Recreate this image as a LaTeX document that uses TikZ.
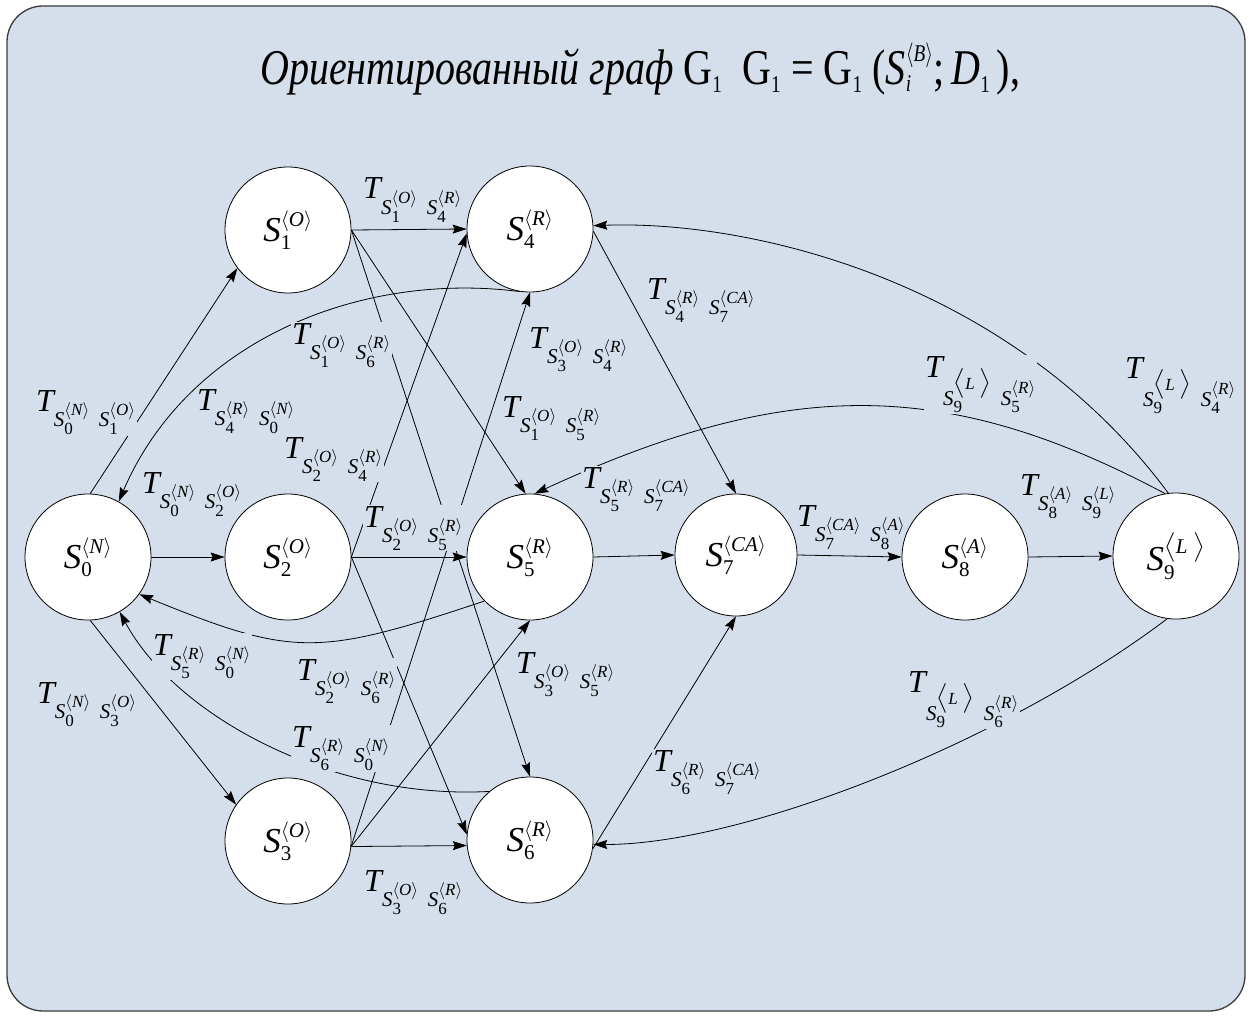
\documentclass[tikz,border=0pt]{standalone}
\usepackage{amsmath}
\usepackage{graphicx}
\usepackage{fontspec}
\setmainfont{Liberation Serif}
\usetikzlibrary{arrows.meta}
\DeclareMathSizes{32}{32}{21}{17}
\DeclareMathSizes{35}{35}{21}{15}
\DeclareMathSizes{50}{50}{24}{18}
\definecolor{bgc}{RGB}{213,222,235}
\definecolor{bdr}{RGB}{60,60,60}
\newcommand\vi[1]{\text{\itshape #1}}
\newcommand\sti[2]{\vi{S}_{\text{#1}}^{\langle\vi{#2}\rangle}}
\newcommand\stiL{\vi{S}_{\text{9}}^{\bigl\langle\vi{L}\;\bigr\rangle}}
\newcommand\trn[4]{$\vi{T}_{\sti{#1}{#2}\;\,\sti{#3}{#4}}$}
\newcommand\trnL[2]{$\vi{T}_{\stiL\;\,\sti{#1}{#2}}$}
\pgfdeclarelayer{bg}
\pgfdeclarelayer{edges}
\pgfdeclarelayer{labs}
\pgfsetlayers{bg,edges,labs,main}
\begin{document}
\begin{tikzpicture}[x=1pt,y=-1pt,
  stnode/.style={circle,draw=black,fill=white,line width=0.8pt,minimum size=126pt,inner sep=0pt,font=\fontsize{35}{40}\selectfont},
  ed/.style={line width=0.8pt,-{Stealth[length=14pt,width=9pt,inset=2pt]}},
  tl/.style={anchor=base west,fill=bgc,inner sep=1pt,font=\fontsize{32}{36}\selectfont}]
\useasboundingbox (0,0) rectangle (1257,1016);
\begin{pgfonlayer}{bg}
\draw[draw=bdr,line width=1.3pt,fill=bgc,rounded corners=36pt] (7,6) rectangle (1245,1011);
\end{pgfonlayer}
% title
\node[anchor=base west,inner sep=0pt,font=\fontsize{50}{60}\selectfont] (title) at (260,85)
 {\scalebox{0.8}[1]{\textit{Ориентированный граф} G\textsubscript{1}\ \ G\textsubscript{1} = G\textsubscript{1} ($\vi{S}_{\vi{i}}^{\langle\vi{B}\rangle}$;\,$\vi{D}_{\text{1}}$\,),}};
% states
\node[stnode] (s0) at (88,557) {$\sti{0}{N}$};
\node[stnode] (s1) at (288,230) {$\sti{1}{O}$};
\node[stnode] (s2) at (288,557) {$\sti{2}{O}$};
\node[stnode] (s3) at (288,841) {$\sti{3}{O}$};
\node[stnode] (s4) at (530,229) {$\sti{4}{R}$};
\node[stnode] (s5) at (530,557) {$\sti{5}{R}$};
\node[stnode] (s6) at (530,840) {$\sti{6}{R}$};
\node[stnode,minimum size=122pt] (s7) at (736,555) {$\sti{7}{CA}$};
\node[stnode] (s8) at (965,557) {$\sti{8}{A}$};
\node[stnode] (s9) at (1176,556) {$\stiL$};
% edges
\begin{pgfonlayer}{edges}
\draw[ed] (s0.88) -- (s1.217);
\draw[ed] (s0.0) -- (s2.180);
\draw[ed] (s0.272) -- (s3.145);
\draw[ed] (s1.0) -- (s4.180);
\draw[ed] (s1.0) -- (s5.94);
\draw[ed] (s1.0) -- (s6.90);
\draw[ed] (s2.0) -- (s4.184);
\draw[ed] (s2.0) -- (s5.180);
\draw[ed] (s2.0) -- (s6.175);
\draw[ed] (s3.-5) -- (s4.270);
\draw[ed] (s3.-5) -- (s5.270);
\draw[ed] (s3.-5) -- (s6.185);
\draw[ed] (s4.-2) -- (s7.90);
\draw[ed] (s5.0) -- (s7.180);
\draw[ed] (s6.-8) -- (s7.270);
\draw[ed] (s7.0) -- (s8.180);
\draw[ed] (s8.0) -- (s9.180);
\draw[ed] (s9.97) .. controls (1010,280) and (750,220) .. (s4.3);
\draw[ed] (s9.100) .. controls (946,377) and (788,377) .. (s5.86);
\draw[ed] (s9.262) .. controls (1000,745) and (740,845) .. (s6.-4);
\draw[ed] (s4.261) .. controls (361,271) and (188,340) .. (s0.61);
\draw[ed] (s5.224) .. controls (317,657) and (293,657) .. (s0.324);
\draw[ed] (s6.130) .. controls (330,800) and (175,715) .. (s0.300);
\end{pgfonlayer}
% labels
\begin{pgfonlayer}{labs}
\node[tl] (l1) at (362,199) {\trn{1}{O}{4}{R}};
\node[tl] (l2) at (646,299) {\trn{4}{R}{7}{CA}};
\node[tl] (l3) at (291,344) {\trn{1}{O}{6}{R}};
\node[tl] (l4) at (528,348) {\trn{3}{O}{4}{R}};
\node[tl] (l5) at (501,417) {\trn{1}{O}{5}{R}};
\node[tl] (l6) at (35,411) {\trn{0}{N}{1}{O}};
\node[tl] (l7) at (196,410) {\trn{4}{R}{0}{N}};
\node[tl] (l8) at (283,458) {\trn{2}{O}{4}{R}};
\node[tl] (l9) at (924,377) {\trnL{5}{R}};
\node[tl] (l10) at (1124,378) {\trnL{4}{R}};
\node[tl] (l11) at (141,493) {\trn{0}{N}{2}{O}};
\node[tl] (l12) at (581,488) {\trn{5}{R}{7}{CA}};
\node[tl] (l13) at (363,527) {\trn{2}{O}{5}{R}};
\node[tl] (l14) at (796,526) {\trn{7}{CA}{8}{A}};
\node[tl] (l15) at (1019,495) {\trn{8}{A}{9}{L}};
\node[tl] (l16) at (152,655) {\trn{5}{R}{0}{N}};
\node[tl] (l17) at (296,680) {\trn{2}{O}{6}{R}};
\node[tl] (l18) at (515,673) {\trn{3}{O}{5}{R}};
\node[tl] (l19) at (36,703) {\trn{0}{N}{3}{O}};
\node[tl] (l20) at (291,747) {\trn{6}{R}{0}{N}};
\node[tl] (l21) at (652,771) {\trn{6}{R}{7}{CA}};
\node[tl] (l22) at (907,692) {\trnL{6}{R}};
\node[tl] (l23) at (363,891) {\trn{3}{O}{6}{R}};
\end{pgfonlayer}
\end{tikzpicture}
\end{document}
